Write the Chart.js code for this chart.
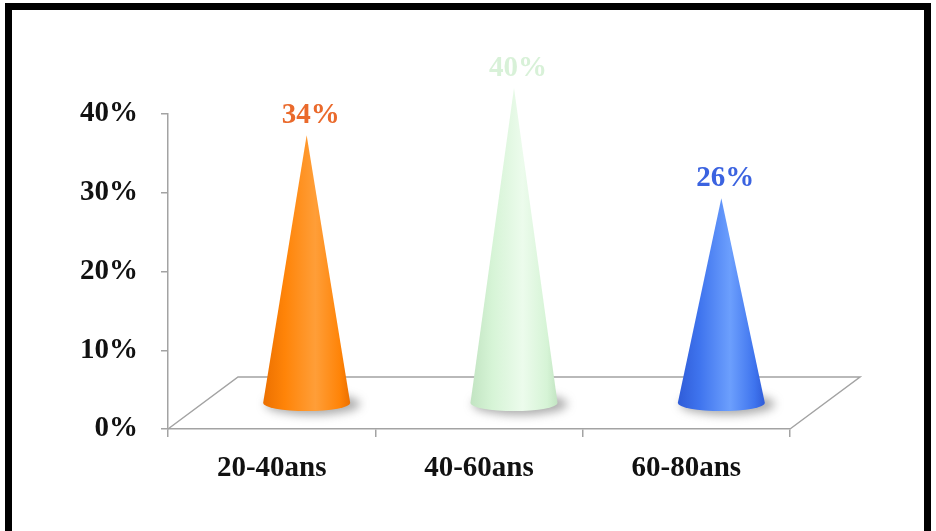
<!DOCTYPE html>
<html>
<head>
<meta charset="utf-8">
<script src="https://cdn.jsdelivr.net/npm/chart.js@4/dist/chart.umd.min.js"></script>
<style>
  html, body { margin: 0; padding: 0; background: #ffffff; }
  #wrap { position: relative; width: 936px; height: 531px; }
</style>
</head>
<body>
<div id="wrap"><canvas id="c" width="936" height="531"></canvas></div>
<script>
// Age groups and their share (%)
const categories = ['20-40ans', '40-60ans', '60-80ans'];
const shares = [34, 40, 26];
const coneBase = ['#ff8408', '#d6f4d6', '#3f74ee'];
const coneLight = ['#ff9e38', '#ecfbec', '#6c9ffd'];
const coneDark = ['#ec7000', '#c2e4c2', '#2f5cd8'];
const labelColors = ['#ea6a2c', '#d8f1d8', '#3b63e0'];
const yTicks = [0, 10, 20, 30, 40];

const SERIF = "'Liberation Serif', 'Times New Roman', serif";
// depth of the pseudo-3D floor (pixels, towards the back)
const DEPTH_X = 70, DEPTH_Y = -52;

const conePlugin = {
  id: 'cones',
  beforeDatasetsDraw(chart) {
    const { ctx, chartArea: a } = chart;
    ctx.save();
    // floor of the plot: a parallelogram going back from the x axis
    ctx.strokeStyle = '#a3a3a3';
    ctx.lineWidth = 1.5;
    ctx.beginPath();
    ctx.moveTo(a.left, a.bottom);
    ctx.lineTo(a.left + DEPTH_X, a.bottom + DEPTH_Y);
    ctx.lineTo(a.right + DEPTH_X, a.bottom + DEPTH_Y);
    ctx.lineTo(a.right, a.bottom);
    ctx.stroke();
    ctx.restore();
  },
  afterDatasetsDraw(chart) {
    const { ctx, scales } = chart;
    const meta = chart.getDatasetMeta(0);
    meta.data.forEach((bar, i) => {
      const cx = bar.x + DEPTH_X / 2;
      const by = scales.y.getPixelForValue(0) + DEPTH_Y / 2;
      const ty = scales.y.getPixelForValue(shares[i]) + DEPTH_Y / 2;
      const rx = bar.width / 2;
      const ry = 8;

      // soft shadow under the base
      ctx.save();
      ctx.fillStyle = 'rgba(90,90,90,0.5)';
      ctx.filter = 'blur(5px)';
      ctx.beginPath();
      ctx.ellipse(cx + 6, by + 1, rx + 4, ry + 3, 0, 0, Math.PI * 2);
      ctx.fill();
      ctx.restore();

      // cone body with a soft horizontal shading gradient
      ctx.save();
      const g = ctx.createLinearGradient(cx - rx, 0, cx + rx, 0);
      g.addColorStop(0, coneDark[i]);
      g.addColorStop(0.25, coneBase[i]);
      g.addColorStop(0.6, coneLight[i]);
      g.addColorStop(0.88, coneBase[i]);
      g.addColorStop(1, coneDark[i]);
      ctx.fillStyle = g;
      ctx.beginPath();
      ctx.moveTo(cx, ty);
      ctx.lineTo(cx - rx, by);
      ctx.ellipse(cx, by, rx, ry, 0, Math.PI, 0, true);
      ctx.closePath();
      ctx.fill();
      ctx.restore();

      // value label above the tip
      ctx.save();
      ctx.font = 'bold 29px ' + SERIF;
      ctx.fillStyle = labelColors[i];
      ctx.textAlign = 'center';
      ctx.textBaseline = 'alphabetic';
      ctx.fillText(shares[i] + '%', cx + 4, ty - 12);
      ctx.restore();
    });
  },
  afterDraw(chart) {
    // black frame around the figure
    const { ctx } = chart;
    ctx.save();
    ctx.fillStyle = '#000000';
    ctx.fillRect(5, 3, 926, 7);
    ctx.fillRect(5, 3, 7, 528);
    ctx.fillRect(924, 3, 7, 528);
    ctx.restore();
  }
};

new Chart(document.getElementById('c'), {
  type: 'bar',
  data: {
    labels: categories,
    datasets: [{
      data: shares,
      backgroundColor: 'rgba(0,0,0,0)',
      borderWidth: 0,
      categoryPercentage: 1,
      barPercentage: 0.42
    }]
  },
  options: {
    responsive: false,
    animation: false,
    events: [],
    layout: { padding: { top: 114, right: 146, left: 0, bottom: 0 } },
    plugins: { legend: { display: false }, tooltip: { enabled: false } },
    scales: {
      x: {
        offset: true,
        afterFit(s) { s.height = 102; },
        grid: { offset: true, drawOnChartArea: false, drawTicks: true, tickLength: 8, color: '#a3a3a3', lineWidth: 1.5 },
        border: { display: true, color: '#a3a3a3', width: 1.5 },
        ticks: { color: '#111111', font: { family: SERIF, size: 29, weight: 'bold' }, padding: 14, maxRotation: 0 }
      },
      y: {
        min: 0,
        max: 40,
        afterFit(s) { s.width = 168; },
        afterBuildTicks(s) { s.ticks = yTicks.map(v => ({ value: v })); },
        grid: { drawOnChartArea: false, drawTicks: true, tickLength: 7, color: '#a3a3a3', lineWidth: 1.5 },
        border: { display: true, color: '#a3a3a3', width: 1.5 },
        ticks: { color: '#111111', font: { family: SERIF, size: 29, weight: 'bold' }, padding: 23, callback: v => v + '%' }
      }
    }
  },
  plugins: [conePlugin]
});
</script>
</body>
</html>
